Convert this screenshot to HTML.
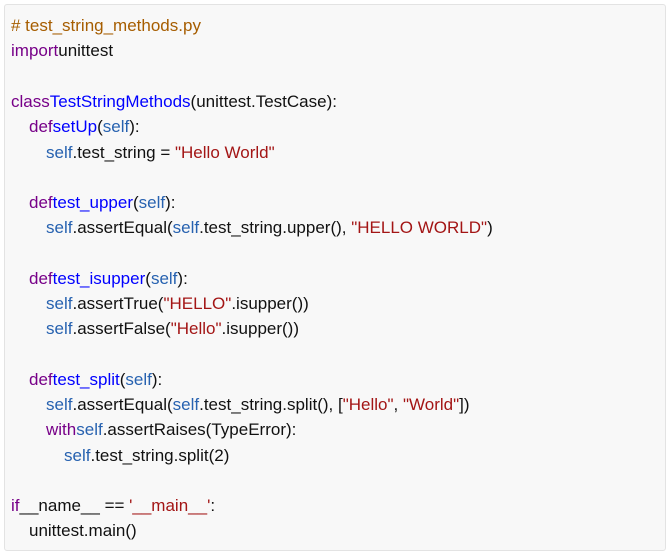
<!DOCTYPE html>
<html><head><meta charset="utf-8"><style>
body{margin:0;background:#fff;width:670px;height:556px;overflow:hidden}
.box{position:absolute;left:4px;top:4px;width:660px;height:545px;background:#f8f8f8;border:1px solid #e3e3e3;border-radius:3px}
.l{position:absolute;left:11px;font:17px "Liberation Sans",sans-serif;color:#111;white-space:pre;line-height:20px;margin-top:1px}
.c{color:#a65d00}.k{color:#770088}.n{color:#0000ff}.s{color:#a31515}.f{color:#2762b0}
</style></head><body><div class="box"></div>
<div class="l" style="top:15px"><span class="c"># test_string_methods.py</span></div>
<div class="l" style="top:40px"><span class="k">import</span>unittest</div>
<div class="l" style="top:91px"><span class="k">class</span><span class="n">TestStringMethods</span>(unittest.TestCase):</div>
<div class="l" style="top:116px;left:29px"><span class="k">def</span><span class="n">setUp</span>(<span class="f">self</span>):</div>
<div class="l" style="top:142px;left:46px"><span class="f">self</span>.test_string = <span class="s">"Hello World"</span></div>
<div class="l" style="top:192px;left:29px"><span class="k">def</span><span class="n">test_upper</span>(<span class="f">self</span>):</div>
<div class="l" style="top:217px;left:46px"><span class="f">self</span>.assertEqual(<span class="f">self</span>.test_string.upper(), <span class="s">"HELLO WORLD"</span>)</div>
<div class="l" style="top:268px;left:29px"><span class="k">def</span><span class="n">test_isupper</span>(<span class="f">self</span>):</div>
<div class="l" style="top:293px;left:46px"><span class="f">self</span>.assertTrue(<span class="s">"HELLO"</span>.isupper())</div>
<div class="l" style="top:318px;left:46px"><span class="f">self</span>.assertFalse(<span class="s">"Hello"</span>.isupper())</div>
<div class="l" style="top:369px;left:29px"><span class="k">def</span><span class="n">test_split</span>(<span class="f">self</span>):</div>
<div class="l" style="top:394px;left:46px"><span class="f">self</span>.assertEqual(<span class="f">self</span>.test_string.split(), [<span class="s">"Hello"</span>, <span class="s">"World"</span>])</div>
<div class="l" style="top:419px;left:46px"><span class="k">with</span><span class="f">self</span>.assertRaises(TypeError):</div>
<div class="l" style="top:445px;left:64px"><span class="f">self</span>.test_string.split(2)</div>
<div class="l" style="top:495px"><span class="k">if</span>__name__ == <span class="s">'__main__'</span>:</div>
<div class="l" style="top:520px;left:29px">unittest.main()</div>
</body></html>
